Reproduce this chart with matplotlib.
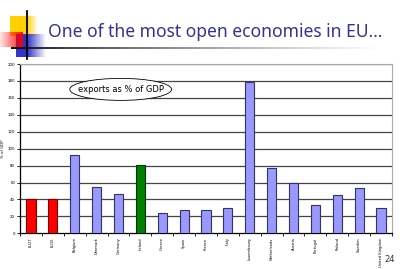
import numpy as np
import matplotlib
matplotlib.use("Agg")
import matplotlib.pyplot as plt
from matplotlib.patches import Ellipse

countries = ["EU27", "EU15", "Belgium", "Denmark", "Germany", "Ireland", "Greece",
             "Spain", "France", "Italy", "Luxembourg", "Netherlands", "Austria",
             "Portugal", "Finland", "Sweden", "United Kingdom"]
exports = [41, 40, 92, 55, 47, 81, 23.5, 27, 27, 29.5, 179, 77, 59, 33, 45, 54, 29.5]
bar_colors = ["#FF0000", "#FF0000", "#9999FF", "#9999FF", "#9999FF", "#008000",
              "#9999FF", "#9999FF", "#9999FF", "#9999FF", "#9999FF", "#9999FF",
              "#9999FF", "#9999FF", "#9999FF", "#9999FF", "#9999FF"]
edge_colors = ["#800000", "#800000", "#333366", "#333366", "#333366", "#003300",
               "#333366", "#333366", "#333366", "#333366", "#333366", "#333366",
               "#333366", "#333366", "#333366", "#333366", "#333366"]
yticks = [0, 20, 40, 60, 80, 100, 120, 140, 160, 180, 200]

W, H = 400, 269
fig = plt.figure(figsize=(W / 100, H / 100), dpi=100)
fig.patch.set_facecolor("white")

# decoration overlay in pixel coords
deco = fig.add_axes([0, 0, 1, 1])
deco.set_xlim(0, W)
deco.set_ylim(H, 0)
deco.axis("off")

# gradient horizontal line
g = np.linspace(0, 1, 256)
line_img = np.ones((1, 256, 4))
line_img[0, :, 0] = line_img[0, :, 1] = line_img[0, :, 2] = g ** 0.7
line_img[0, :, 3] = 1
deco.imshow(line_img, extent=(11, 380, 48.8, 47.2), aspect="auto", zorder=2)

# yellow square
yel = np.ones((1, 100, 4))
yel[0, :, 0] = 1.0
yel[0, :, 1] = 0.82
yel[0, :, 2] = 0.0
yel[0, :, 3] = np.clip((1 - np.linspace(0, 1, 100)) * 2.5, 0, 1)
deco.imshow(yel, extent=(10, 38, 36, 16), aspect="auto", zorder=1)
# blue square
blu = np.ones((1, 100, 4))
blu[0, :, 0] = 0.2
blu[0, :, 1] = 0.2
blu[0, :, 2] = 0.8
blu[0, :, 3] = np.clip((1 - np.linspace(0, 1, 100)) * 1.6, 0, 1)
deco.imshow(blu, extent=(16, 46, 57, 34), aspect="auto", zorder=1)
# red square
red = np.ones((1, 100, 4))
red[0, :, 0] = 1.0
red[0, :, 1] = 0.0
red[0, :, 2] = 0.0
red[0, :, 3] = np.linspace(0.1, 0.95, 100)
deco.imshow(red, extent=(0, 23, 47, 32), aspect="auto", zorder=1.5)
# vertical black line
deco.plot([27, 27], [11, 59], color="black", lw=1.3, zorder=3)

deco.text(48, 32, "One of the most open economies in EU\u2026", color="#333399",
          fontsize=12.6, va="center", ha="left", family="Noto Sans")
deco.text(390, 259, "24", fontsize=6, ha="center", va="center", color="#333333")

# chart axes
left, right = 20 / W, 392 / W
bottom, top = 1 - 233.3 / H, 1 - 64 / H
ax = fig.add_axes([left, bottom, right - left, top - bottom])
x = np.arange(len(countries))
ax.bar(x, exports, width=0.42, color=bar_colors, edgecolor=edge_colors,
       linewidth=0.8, zorder=3)
ax.set_xlim(-0.5, len(countries) - 0.5)
ax.set_ylim(0, 200)
ax.set_yticks(yticks)
ax.set_yticklabels([str(v) for v in yticks], fontsize=2.8)
for v in yticks[1:]:
    ax.axhline(v, color="#444444", lw=0.9, zorder=1)
ax.set_xticks(x)
ax.set_xticklabels(countries, rotation=90, fontsize=2.6)
ax.tick_params(axis="x", length=0, pad=3)
ax.tick_params(axis="y", length=2, width=0.6, pad=1.5)
ax.set_xticks(np.arange(-0.5, len(countries), 1), minor=True)
ax.tick_params(axis="x", which="minor", length=2, width=0.6)
ax.spines["left"].set_color("black")
ax.spines["left"].set_linewidth(0.9)
ax.spines["bottom"].set_color("black")
ax.spines["bottom"].set_linewidth(0.9)
ax.spines["top"].set_color("#aaaaaa")
ax.spines["right"].set_color("#aaaaaa")
ax.set_ylabel("% of GDP", fontsize=2.8, labelpad=2)

ell = Ellipse((4.1, 170), 4.65, 26, fill=True, facecolor="white", edgecolor="black",
              lw=0.6, zorder=5)
ax.add_patch(ell)
ax.text(4.1, 170, "exports as % of GDP", fontsize=6, ha="center", va="center",
        zorder=6)

fig.savefig("out.png", dpi=100)
